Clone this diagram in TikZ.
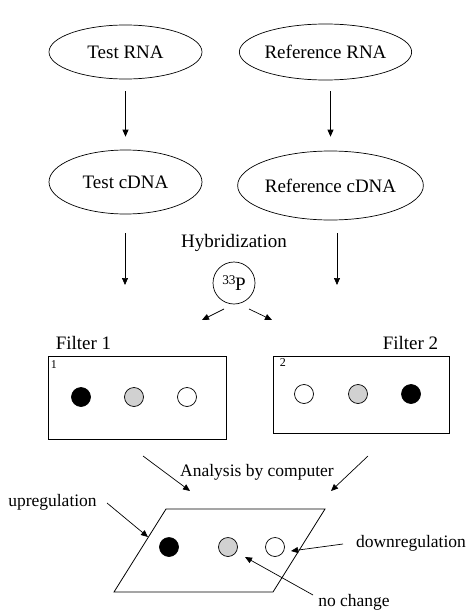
\documentclass[tikz,border=0pt]{standalone}
\usepackage{fontspec}
\setmainfont{Liberation Serif}
\usetikzlibrary{positioning,shapes.geometric,arrows.meta}
\tikzset{
  sample/.style={ellipse, draw, line width=0.7pt, minimum width=153pt, inner sep=0pt,
    font=\fontsize{19}{22}\selectfont},
  flow/.style={-{Triangle[length=7pt,width=6pt]}, line width=0.7pt},
  filterbox/.style={draw, rectangle, line width=0.8pt, inner sep=0pt},
  spot/.style={circle, draw, minimum size=19pt, inner sep=0pt, line width=0.7pt},
  lab/.style={font=\fontsize{19}{22}\selectfont},
  note/.style={font=\fontsize{17.5}{20}\selectfont},
  tiny/.style={font=\fontsize{12}{14}\selectfont, inner sep=0pt}
}
\colorlet{midgray}{black!18}

\begin{document}
\begin{tikzpicture}[x=1pt, y=-1pt]
  \useasboundingbox (0,0) rectangle (468,610);
  %% RNA and cDNA
  \node[sample, minimum height=54pt] (trna) at (125.5,52) {Test RNA};
  \node[sample, minimum height=56pt] (rrna) at (325.5,52) {Reference RNA};
  \node[sample, minimum height=64pt] (tcdna) at (125.5,182) {Test cDNA};
  \node[sample, minimum height=69pt] (rcdna) at (330.5,185.5) {Reference cDNA};
  \draw[flow, shorten <=12pt, shorten >=13pt] (trna) -- (tcdna);
  \draw[flow, shorten <=11pt, shorten >=14pt] (rcdna.north |- rrna.south) -- (rcdna.north);
  %%
  \node[lab] (hyb) at (234,243) {Hybridization};
  \node[circle, draw, line width=0.7pt, minimum size=42pt, inner sep=0pt, lab] (p33) at (234,283)
    {\textsuperscript{33}\kern-1ptP};
  \coordinate (tdown) at (125,285);
  \coordinate (rdown) at (337,285);
  \draw[flow] (tdown |- tcdna.south) ++(0,19) -- (tdown);
  \draw[flow] (rdown |- rcdna.south) ++(0,13) -- (rdown);
  \coordinate (splitl) at (202,320);
  \coordinate (splitr) at (272,320);
  \draw[flow] (224,309) -- (splitl);
  \draw[flow] (249,309) -- (splitr);
  %% filters
  \node[lab] (f1lab) at (83.5,343) {Filter 1};
  \node[lab] (f2lab) at (410.5,343) {Filter 2};
  \node[filterbox, minimum width=178pt, minimum height=83pt] (filt1) at (137,397.5) {};
  \node[filterbox, minimum width=176pt, minimum height=77pt] (filt2) at (361,394.5) {};
  \node[tiny, anchor=north west] (n1) at ([xshift=3pt,yshift=-5pt]filt1.north west) {1};
  \node[tiny, anchor=north west] (n2) at ([xshift=7pt,yshift=-3pt]filt2.north west) {2};
  \node[spot, fill=black] (a1) at (81,397) {};
  \node[spot, fill=midgray] (a2) at (134,397) {};
  \node[spot, fill=white] (a3) at (187,397) {};
  \node[spot, fill=white] (b1) at (304,394) {};
  \node[spot, fill=midgray] (b2) at (358,394) {};
  \node[spot, fill=black] (b3) at (411,394) {};
  %% analysis
  \node[note] (ana) at (257,472) {Analysis by computer};
  \coordinate (anl) at (190,491);
  \coordinate (anr) at (331,491);
  \draw[flow] (143,456) -- (anl);
  \draw[flow] (368,456) -- (anr);
  \draw[line width=0.8pt] (166,509) -- (325,509) -- (273,592) -- (114,592) -- cycle;
  \node[spot, fill=black] (c1) at (169,547) {};
  \node[spot, fill=midgray] (c2) at (228,547) {};
  \node[spot, fill=white] (c3) at (275,547) {};
  \node[note] (up) at (52.5,502) {upregulation};
  \node[note] (down) at (411,543) {downregulation};
  \node[note] (same) at (354,602) {no change};
  \coordinate (upend) at (148,537);
  \coordinate (downend) at (291,551);
  \coordinate (sameend) at (245,557);
  \draw[flow] (107,503) -- (upend);
  \draw[flow] (343,544) -- (downend);
  \draw[flow] (313,595) -- (sameend);
\end{tikzpicture}
\end{document}
